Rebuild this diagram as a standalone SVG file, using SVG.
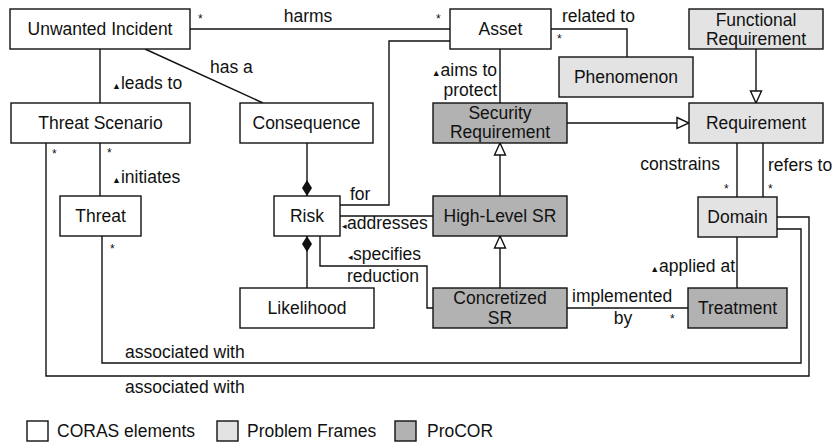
<svg xmlns="http://www.w3.org/2000/svg" width="834" height="443" viewBox="0 0 834 443">
<style>
text{font-family:"Liberation Sans",Arial,Helvetica,sans-serif;font-size:17.5px;fill:#111}
.n{stroke:#111;stroke-width:1.4;fill:#fff}
.pf{fill:#e3e3e3}
.pc{fill:#b2b2b2}
.c{text-anchor:middle}
.r{text-anchor:end}
.s{font-size:12px}
.t{font-size:9px}
.l{fill:none;stroke:#111;stroke-width:1.4}
</style>
<defs>
<marker id="gen" markerWidth="14" markerHeight="14" viewBox="0 0 14 14" refX="13" refY="7" orient="auto" markerUnits="userSpaceOnUse">
<path d="M1,1.5 L13,7 L1,12.5 Z" fill="#fff" stroke="#111" stroke-width="1.4"/>
</marker>
<marker id="dia" markerWidth="18" markerHeight="12" viewBox="0 0 18 12" refX="17" refY="6" orient="auto-start-reverse" markerUnits="userSpaceOnUse">
<path d="M1,6 L9,1 L17,6 L9,11 Z" fill="#111"/>
</marker>
</defs>

<g id="connectors">
<line class="l" x1="190" y1="29" x2="450" y2="29"/>
<polyline class="l" points="450,41 389,41 389,205 340,205"/>
<line class="l" x1="100" y1="49" x2="100" y2="103"/>
<line class="l" x1="145" y1="49" x2="263" y2="103"/>
<line class="l" x1="500" y1="49" x2="500" y2="103"/>
<polyline class="l" points="551,29 627,29 627,57"/>
<line class="l" x1="756" y1="49" x2="756" y2="103" marker-end="url(#gen)"/>
<line class="l" x1="567" y1="123" x2="689" y2="123" marker-end="url(#gen)"/>
<line class="l" x1="737" y1="143" x2="737" y2="197"/>
<line class="l" x1="763" y1="143" x2="763" y2="197"/>
<line class="l" x1="307" y1="143" x2="307" y2="196" marker-end="url(#dia)"/>
<line class="l" x1="307" y1="288" x2="307" y2="236" marker-end="url(#dia)"/>
<line class="l" x1="100" y1="143" x2="100" y2="196"/>
<line class="l" x1="340" y1="216" x2="433" y2="216"/>
<polyline class="l" points="320,236 320,266 427,266 427,308 433,308"/>
<line class="l" x1="500" y1="196" x2="500" y2="143" marker-end="url(#gen)"/>
<line class="l" x1="500" y1="288" x2="500" y2="236" marker-end="url(#gen)"/>
<line class="l" x1="567" y1="308" x2="688" y2="308"/>
<line class="l" x1="737" y1="237" x2="737" y2="288"/>
<polyline class="l" points="777,229 801,229 801,363 102,363 102,236"/>
<polyline class="l" points="777,217 809,217 809,376 46,376 46,143"/>

<text x="308" y="22" class="c">harms</text>
<text x="198" y="23" class="s">*</text>
<text x="436" y="23" class="s">*</text>
<text x="350" y="200">for</text>
<text x="112" y="89"><tspan class="t">▲</tspan>leads to</text>
<text x="210" y="73">has a</text>
<text x="497" y="76" class="r"><tspan class="t">▲</tspan>aims to</text>
<text x="497" y="96" class="r">protect</text>
<text x="562" y="22">related to</text>
<text x="557" y="43" class="s">*</text>
<text x="720" y="170" class="r">constrains</text>
<text x="768" y="171">refers to</text>
<text x="724" y="193" class="s">*</text>
<text x="768" y="193" class="s">*</text>
<text x="107" y="157" class="s">*</text>
<text x="52" y="158" class="s">*</text>
<text x="112" y="183"><tspan class="t">▲</tspan>initiates</text>
<text x="342" y="229"><tspan class="t">◂</tspan>addresses</text>
<text x="348" y="260"><tspan class="t">◂</tspan>specifies</text>
<text x="347" y="282">reduction</text>
<text x="572" y="302">implemented</text>
<text x="623" y="324" class="c">by</text>
<text x="670" y="323" class="s">*</text>
<text x="735" y="272" class="r"><tspan class="t">▲</tspan>applied at</text>
<text x="110" y="253" class="s">*</text>
<text x="125" y="358">associated with</text>
<text x="125" y="393">associated with</text>
</g>

<g id="unwanted-incident"><rect class="n" x="10" y="9" width="180" height="40"/><text x="100" y="35" class="c">Unwanted Incident</text></g>
<g id="asset"><rect class="n" x="450" y="9" width="101" height="40"/><text x="500.5" y="35" class="c">Asset</text></g>
<g id="functional-requirement"><rect class="n pf" x="689" y="9" width="134" height="40"/><text x="756" y="26" class="c">Functional</text><text x="756" y="45" class="c">Requirement</text></g>
<g id="phenomenon"><rect class="n pf" x="559" y="57" width="134" height="40"/><text x="626" y="83" class="c">Phenomenon</text></g>
<g id="threat-scenario"><rect class="n" x="11" y="103" width="179" height="40"/><text x="100.5" y="129" class="c">Threat Scenario</text></g>
<g id="consequence"><rect class="n" x="240" y="103" width="133" height="40"/><text x="306.5" y="129" class="c">Consequence</text></g>
<g id="security-requirement"><rect class="n pc" x="433" y="103" width="134" height="40"/><text x="500" y="119" class="c">Security</text><text x="500" y="138" class="c">Requirement</text></g>
<g id="requirement"><rect class="n pf" x="689" y="103" width="134" height="40"/><text x="756" y="129" class="c">Requirement</text></g>
<g id="threat"><rect class="n" x="60" y="196" width="81" height="40"/><text x="100.5" y="222" class="c">Threat</text></g>
<g id="risk"><rect class="n" x="274" y="196" width="66" height="40"/><text x="307" y="222" class="c">Risk</text></g>
<g id="high-level-sr"><rect class="n pc" x="433" y="196" width="134" height="40"/><text x="500" y="222" class="c">High-Level SR</text></g>
<g id="domain"><rect class="n pf" x="698" y="197" width="79" height="40"/><text x="737.5" y="223" class="c">Domain</text></g>
<g id="likelihood"><rect class="n" x="240" y="288" width="134" height="40"/><text x="307" y="314" class="c">Likelihood</text></g>
<g id="concretized-sr"><rect class="n pc" x="433" y="288" width="134" height="40"/><text x="500" y="304" class="c">Concretized</text><text x="500" y="324" class="c">SR</text></g>
<g id="treatment"><rect class="n pc" x="688" y="288" width="99" height="40"/><text x="737.5" y="314" class="c">Treatment</text></g>

<g id="legend">
<rect class="n" x="27" y="421" width="21" height="20"/><text x="57" y="437">CORAS elements</text>
<rect class="n pf" x="217" y="421" width="21" height="20"/><text x="247" y="437">Problem Frames</text>
<rect class="n pc" x="395" y="421" width="21" height="20"/><text x="427" y="437">ProCOR</text>
</g>
</svg>
